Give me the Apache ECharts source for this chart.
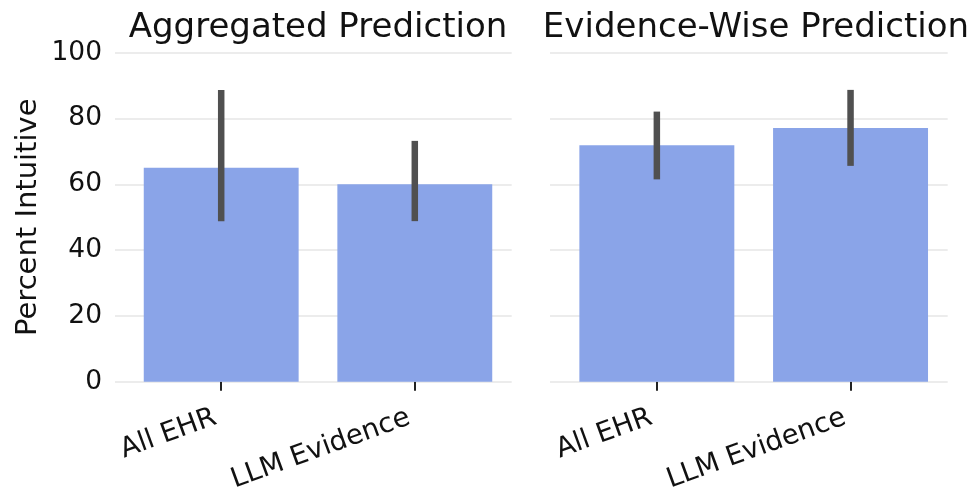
<!DOCTYPE html>
<html>
<head>
<meta charset="utf-8">
<script src="https://cdn.jsdelivr.net/npm/echarts@6/dist/echarts.min.js"></script>
<style>
  html, body { margin: 0; padding: 0; background: #fff; }
  #chart { width: 976px; height: 500px; }
</style>
</head>
<body>
<div id="chart"></div>
<script>
// Share of "intuitive" judgements per evidence source, with 95% intervals
const categories = ['All EHR', 'LLM Evidence'];
const panelTitles = ['Aggregated Prediction', 'Evidence-Wise Prediction'];
const aggregatedMean = [65.0, 60.0];
const aggregatedLow = [48.8, 48.8];
const aggregatedHigh = [88.7, 73.2];
const evidenceMean = [71.9, 77.1];
const evidenceLow = [61.5, 65.6];
const evidenceHigh = [82.1, 88.7];
const yMin = 0, yMax = 100, yStep = 20;
const yName = 'Percent Intuitive';

const FONT = 'DejaVu Sans';
const BAR = '#8aa4e8';
const ERR = '#505050';
const GRIDLINE = '#e6e6e6';
const TOP = 52.7, HEIGHT = 329;

const chart = echarts.init(document.getElementById('chart'), null, { renderer: 'canvas' });

// backdrop grids carry the horizontal gridlines; bar grids sit on top
const grids = [
  { left: 115, top: TOP, width: 396.7, height: HEIGHT },
  { left: 124.4, top: TOP, width: 387.2, height: HEIGHT },
  { left: 550, top: TOP, width: 397.7, height: HEIGHT },
  { left: 560, top: TOP, width: 387.4, height: HEIGHT }
];

function backdropX(gi) {
  return { gridIndex: gi, type: 'value', show: false, min: 0, max: 1 };
}
function barX(gi) {
  return {
    gridIndex: gi, type: 'category', data: categories,
    axisLine: { show: false },
    axisTick: { show: true, alignWithLabel: true, length: 9, lineStyle: { color: '#222', width: 2 } },
    axisLabel: { rotate: 20, fontSize: 27.5, fontFamily: FONT, color: '#111', margin: 33,
      padding: [0, 6, 0, 0], interval: 0 },
    splitLine: { show: false }
  };
}
function backdropY(gi, showLabels) {
  const ax = {
    gridIndex: gi, type: 'value', min: yMin, max: yMax, interval: yStep,
    axisLine: { show: false }, axisTick: { show: false },
    axisLabel: { show: showLabels, fontSize: 26.5, fontFamily: FONT, color: '#111', margin: 13 },
    splitLine: { show: true, lineStyle: { color: GRIDLINE, width: 1.5 } }
  };
  if (showLabels) {
    ax.name = yName;
    ax.nameLocation = 'middle';
    ax.nameGap = 72;
    ax.nameTextStyle = { fontSize: 29, fontFamily: FONT, color: '#111' };
  }
  return ax;
}
function barY(gi) {
  return { gridIndex: gi, type: 'value', min: yMin, max: yMax, interval: yStep, show: false,
    splitLine: { show: false } };
}

function barSeries(axisIdx, values) {
  return {
    type: 'bar', xAxisIndex: axisIdx, yAxisIndex: axisIdx,
    data: values, barWidth: '80%',
    itemStyle: { color: BAR }, silent: true, z: 2
  };
}
function errorSeries(axisIdx, low, high) {
  return {
    type: 'custom', xAxisIndex: axisIdx, yAxisIndex: axisIdx, silent: true, z: 5,
    data: low.map((l, i) => [i, l, high[i]]),
    renderItem: function (params, api) {
      const a = api.coord([api.value(0), api.value(1)]);
      const b = api.coord([api.value(0), api.value(2)]);
      return {
        type: 'line',
        shape: { x1: a[0], y1: a[1], x2: b[0], y2: b[1] },
        style: { stroke: ERR, lineWidth: 6.5, lineCap: 'butt' }
      };
    }
  };
}

chart.setOption({
  backgroundColor: '#fff',
  animation: false,
  title: [
    { text: panelTitles[0], left: 313, top: 6, textAlign: 'center',
      textStyle: { fontSize: 34, fontWeight: 'normal', fontFamily: FONT, color: '#111' } },
    { text: panelTitles[1], left: 751, top: 6, textAlign: 'center',
      textStyle: { fontSize: 34, fontWeight: 'normal', fontFamily: FONT, color: '#111' } }
  ],
  grid: grids,
  xAxis: [backdropX(0), barX(1), backdropX(2), barX(3)],
  yAxis: [backdropY(0, true), barY(1), backdropY(2, false), barY(3)],
  series: [
    barSeries(1, aggregatedMean),
    errorSeries(1, aggregatedLow, aggregatedHigh),
    barSeries(3, evidenceMean),
    errorSeries(3, evidenceLow, evidenceHigh)
  ]
});
</script>
</body>
</html>
